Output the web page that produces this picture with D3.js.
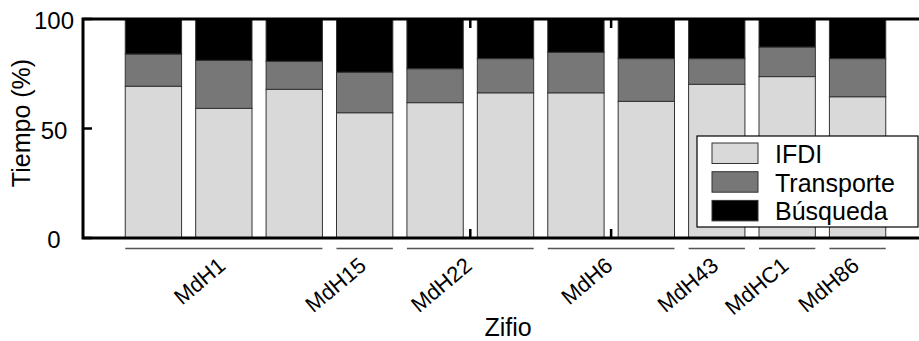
<!DOCTYPE html>
<html>
<head>
<meta charset="utf-8">
<script src="https://cdn.jsdelivr.net/npm/d3@7"></script>
<style>
  body { margin: 0; background: #fff; }
  svg { display: block; font-family: "Liberation Sans", Arial, sans-serif; }
</style>
</head>
<body>
<div id="container"></div>
<script>
// groups of bars (one whale per group) and how many bars each has
const groups = ["MdH1", "MdH15", "MdH22", "MdH6", "MdH43", "MdHC1", "MdH86"];
const barsPerGroup = [3, 1, 2, 2, 1, 1, 1];

const series = ["IFDI", "Transporte", "Búsqueda"];
const colors = ["#d9d9d9", "#777777", "#000000"];

// percentage of time per bar
const ifdi       = [69.3, 59.2, 67.9, 57.2, 61.8, 66.3, 66.3, 62.4, 70.2, 73.7, 64.5];
const transporte = [14.7, 21.9, 12.8, 18.5, 15.5, 15.6, 18.5, 19.5, 11.7, 13.5, 17.4];
const busqueda   = [16.0, 18.9, 19.3, 24.3, 22.7, 18.1, 15.2, 18.1, 18.1, 12.8, 18.1];

const yTicks = [0, 50, 100];

const width = 919;
const height = 341;
const margins = { top: 19, bottom: 103, left: 83, right: -9 };

const barIds = d3.range(ifdi.length);
const table = barIds.map(i => ({ id: i, IFDI: ifdi[i], Transporte: transporte[i], "Búsqueda": busqueda[i] }));
const stacked = d3.stack().keys(series)(table);

const xScale = d3.scaleBand(barIds, [margins.left, width - margins.right])
  .paddingInner(0.2)
  .paddingOuter(0.6);
const yScale = d3.scaleLinear([0, 100], [height - margins.bottom, margins.top]);

// group extents (first bar to last bar)
let start = 0;
const groupSpans = groups.map((g, k) => {
  const first = start, last = start + barsPerGroup[k] - 1;
  start += barsPerGroup[k];
  const x0 = xScale(first), x1 = xScale(last) + xScale.bandwidth();
  return { name: g, x0, x1, cx: (x0 + x1) / 2 };
});

const svg = d3.select('#container')
  .append('svg')
  .attr('width', width)
  .attr('height', height)
  .attr('viewBox', [0, 0, width, height]);

// group ticks (mostly hidden behind the bars)
svg.append('g')
  .selectAll('path')
  .data(groupSpans)
  .join('path')
  .attr('d', d => `M${d.cx},${yScale(100)}v9M${d.cx},${yScale(0)}v-9`)
  .attr('stroke', '#000')
  .attr('stroke-width', 2.5);

// bars
svg.append('g')
  .selectAll('g')
  .data(stacked)
  .join('g')
  .attr('fill', (d, i) => colors[i])
  .selectAll('rect')
  .data(d => d)
  .join('rect')
  .attr('x', d => xScale(d.data.id))
  .attr('width', xScale.bandwidth())
  .attr('y', d => yScale(d[1]))
  .attr('height', d => yScale(d[0]) - yScale(d[1]))
  .attr('stroke', '#333')
  .attr('stroke-width', 1);

// frame
svg.append('rect')
  .attr('x', margins.left)
  .attr('y', yScale(100))
  .attr('width', width - margins.right - margins.left)
  .attr('height', yScale(0) - yScale(100))
  .attr('fill', 'none')
  .attr('stroke', '#000')
  .attr('stroke-width', 3);

// y ticks
svg.append('g')
  .selectAll('path')
  .data(yTicks)
  .join('path')
  .attr('d', d => `M${margins.left},${yScale(d)}h9`)
  .attr('stroke', '#000')
  .attr('stroke-width', 2.5);

svg.append('g')
  .selectAll('text')
  .data(yTicks)
  .join('text')
  .attr('x', 54)
  .attr('y', d => yScale(d) + 10)
  .attr('text-anchor', 'middle')
  .attr('font-size', 24)
  .text(d => d);

svg.append('text')
  .attr('transform', `translate(30,123) rotate(-90)`)
  .attr('text-anchor', 'middle')
  .attr('font-size', 25)
  .text('Tiempo (%)');

// group lines and labels
svg.append('g')
  .selectAll('line')
  .data(groupSpans)
  .join('line')
  .attr('x1', d => d.x0)
  .attr('x2', d => d.x1)
  .attr('y1', 248.5)
  .attr('y2', 248.5)
  .attr('stroke', '#555')
  .attr('stroke-width', 1.5);

svg.append('g')
  .selectAll('text')
  .data(groupSpans)
  .join('text')
  .attr('transform', d => `translate(${d.cx + 3},268) rotate(-40)`)
  .attr('text-anchor', 'end')
  .attr('font-size', 22)
  .text(d => d.name);

svg.append('text')
  .attr('x', 508)
  .attr('y', 336)
  .attr('text-anchor', 'middle')
  .attr('font-size', 25)
  .text('Zifio');

// legend
const legend = svg.append('g').attr('transform', 'translate(697,136)');
legend.append('rect')
  .attr('width', 221)
  .attr('height', 91)
  .attr('fill', '#fff')
  .attr('stroke', '#000')
  .attr('stroke-width', 1.2);

const items = legend.selectAll('g')
  .data(series)
  .join('g')
  .attr('transform', (d, i) => `translate(15,${7 + i * 28.7})`);
items.append('rect')
  .attr('width', 46)
  .attr('height', 20.5)
  .attr('fill', (d, i) => colors[i])
  .attr('stroke', '#333')
  .attr('stroke-width', 1);
items.append('text')
  .attr('x', 63)
  .attr('y', 20)
  .attr('font-size', 25)
  .text(d => d);
</script>
</body>
</html>
